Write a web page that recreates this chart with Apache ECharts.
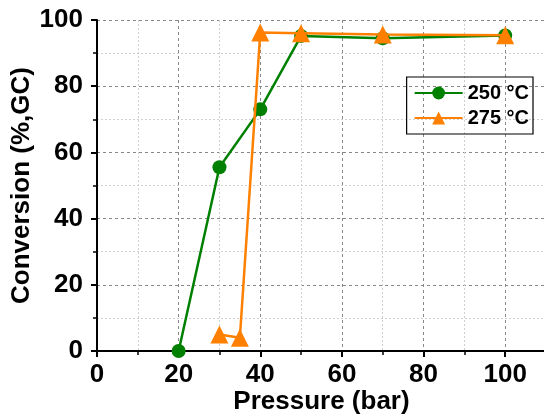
<!DOCTYPE html>
<html>
<head>
<meta charset="utf-8">
<script src="https://cdn.jsdelivr.net/npm/echarts@6/dist/echarts.min.js"></script>
<style>
  html, body { margin: 0; padding: 0; background: #fff; }
  #chart { width: 544px; height: 419px; }
</style>
</head>
<body>
<div id="chart"></div>
<script>
// pressure (bar) and conversion (%)
const pressure250 = [20, 30, 40, 50, 70, 100]
const conv250 = [0, 55.5, 73, 95.2, 94.5, 95.3]
const pressure275 = [30, 35, 40, 50, 70, 100]
const conv275 = [5, 4, 96.2, 96, 95.6, 95.4]
const seriesNames = ['250 °C', '275 °C']

const pairs = (xs, ys) => xs.map((x, i) => [x, ys[i]])
const font = '"Liberation Sans", Arial, sans-serif'

const chart = echarts.init(document.getElementById('chart'))
const axisCommon = {
  axisLine: { show: true, lineStyle: { color: '#000', width: 2 } },
  axisTick: { show: true, inside: false, length: 6, lineStyle: { color: '#000', width: 2 } },
  minorTick: { show: true, splitNumber: 2, length: 4, lineStyle: { color: '#000', width: 1.5 } },
  splitLine: { show: true, lineStyle: { color: '#888', type: [3, 3], width: 1 } },
  minorSplitLine: { show: true, lineStyle: { color: '#d0d0d0', type: [2, 2], width: 1 } },
  axisLabel: { color: '#000', fontSize: 26, fontWeight: 'bold', fontFamily: font },
  nameTextStyle: { color: '#000', fontSize: 26, fontWeight: 'bold', fontFamily: font },
  nameLocation: 'middle',
  nameMoveOverlap: false
}

const option = {
  backgroundColor: '#fff',
  animation: false,
  grid: { left: 97, right: -2, top: 20, bottom: 68, containLabel: false, outerBoundsMode: 'none' },
  legend: {
    right: 11,
    top: 77,
    orient: 'vertical',
    borderColor: '#000',
    borderWidth: 1.2,
    padding: [6, 4, 6, 7],
    itemGap: 5,
    itemWidth: 48,
    itemHeight: 16,
    textStyle: { color: '#000', fontSize: 20, fontWeight: 'bold', fontFamily: font },
    data: seriesNames
  },
  xAxis: Object.assign({}, axisCommon, {
    type: 'value',
    min: 0,
    max: 110,
    interval: 20,
    name: 'Pressure (bar)',
    nameGap: 38,
    axisLabel: Object.assign({}, axisCommon.axisLabel, {
      margin: 11,
      formatter: v => (v > 100 ? '' : v)
    })
  }),
  yAxis: Object.assign({}, axisCommon, {
    type: 'value',
    min: 0,
    max: 100,
    interval: 20,
    name: 'Conversion (%,GC)',
    nameGap: 62,
    axisLabel: Object.assign({}, axisCommon.axisLabel, { margin: 14 })
  }),
  series: [
    {
      name: seriesNames[0],
      type: 'line',
      data: pairs(pressure250, conv250),
      symbol: 'circle',
      symbolSize: 14,
      color: '#008000',
      lineStyle: { color: '#008000', width: 2.5 },
      itemStyle: { color: '#008000' },
      z: 2
    },
    {
      name: seriesNames[1],
      type: 'line',
      data: pairs(pressure275, conv275),
      symbol: 'triangle',
      symbolSize: 18,
      color: '#ff8000',
      lineStyle: { color: '#ff8000', width: 2.5 },
      itemStyle: { color: '#ff8000' },
      z: 3
    }
  ]
}
chart.setOption(option)
</script>
</body>
</html>
